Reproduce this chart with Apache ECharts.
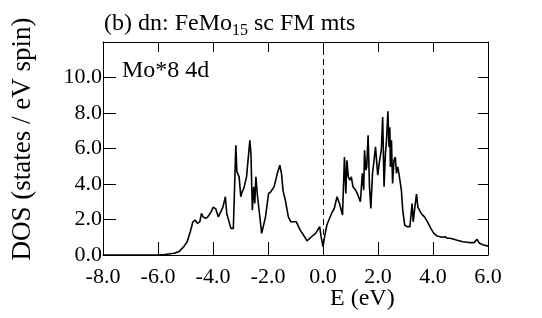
<!DOCTYPE html>
<html>
<head>
<meta charset="utf-8">
<script src="https://cdn.jsdelivr.net/npm/echarts@6/dist/echarts.min.js"></script>
<style>
    html, body {margin: 0; padding: 0; background: #fff;}
    #chart {width: 542px; height: 318px;}
</style>
</head>
<body>
<div id="chart"></div>
<script>
// energy (eV) and DOS
const energy = [
    -8.0, -6.0, -5.76, -5.41, -5.23, -5.06, -4.94, -4.83, -4.73, -4.65, -4.57, -4.48, -4.42, -4.36,
    -4.27, -4.19, -4.07, -3.99, -3.90, -3.81, -3.72, -3.64, -3.55, -3.50, -3.43, -3.35, -3.26, -3.20,
    -3.17, -3.13, -3.09, -3.05, -2.99, -2.94, -2.88, -2.83, -2.78, -2.73, -2.66, -2.62, -2.57, -2.52,
    -2.48, -2.44, -2.38, -2.23, -2.09, -1.98, -1.90, -1.78, -1.66, -1.57, -1.51, -1.45, -1.37, -1.26,
    -1.17, -1.08, -0.97, -0.83, -0.67, -0.58, -0.44, -0.27, -0.12, -0.07, 0.0, 0.06, 0.14, 0.20,
    0.31, 0.41, 0.51, 0.60, 0.71, 0.78, 0.83, 0.87, 0.92, 0.98, 1.03, 1.09, 1.19, 1.27,
    1.36, 1.43, 1.48, 1.51, 1.56, 1.59, 1.64, 1.69, 1.74, 1.80, 1.85, 1.91, 1.99, 2.06,
    2.12, 2.17, 2.22, 2.27, 2.31, 2.36, 2.40, 2.43, 2.45, 2.49, 2.53, 2.58, 2.63, 2.67,
    2.72, 2.77, 2.85, 2.90, 2.97, 3.05, 3.16, 3.22, 3.24, 3.28, 3.34, 3.40, 3.45, 3.57,
    3.69, 3.80, 3.92, 4.03, 4.15, 4.33, 4.44, 4.52, 4.62, 4.73, 4.85, 5.08, 5.31, 5.49,
    5.55, 5.60, 5.69, 5.84, 6.0
];
const dos = [
    0.0, 0.0, 0.03, 0.1, 0.2, 0.47, 0.75, 1.3, 1.87, 1.97, 1.78, 1.87, 2.34, 2.15,
    2.06, 2.15, 2.43, 2.7, 2.6, 2.15, 2.43, 2.7, 3.28, 2.34, 2.25, 1.5, 1.5, 4.6,
    6.18, 4.68, 4.78, 4.4, 3.28, 3.56, 3.75, 3.84, 4.4, 4.5, 6.46, 5.71, 2.53, 3.84,
    2.9, 4.4, 3.28, 1.22, 2.15, 3.46, 3.56, 3.84, 4.6, 5.06, 4.6, 3.6, 3.09, 2.15,
    1.87, 1.87, 1.87, 1.4, 1.03, 0.8, 1.0, 1.22, 1.6, 1.03, 0.47, 1.03, 1.69, 1.78,
    2.34, 2.62, 3.28, 2.9, 2.25, 5.52, 3.46, 5.34, 4.4, 4.21, 4.4, 3.84, 3.65, 3.37,
    3.0, 4.6, 3.65, 5.9, 4.78, 4.96, 6.74, 3.84, 2.62, 4.6, 5.24, 6.09, 4.5, 5.34,
    5.9, 7.77, 3.84, 5.71, 6.46, 8.1, 6.09, 7.2, 4.96, 6.46, 4.03, 5.34, 5.52, 4.6,
    4.96, 4.5, 3.65, 2.53, 1.69, 1.6, 1.6, 1.69, 2.9, 1.87, 2.7, 3.43, 2.7, 2.34,
    2.15, 1.87, 1.5, 1.22, 1.07, 1.0, 1.03, 0.94, 0.94, 0.9, 0.84, 0.75, 0.7, 0.7,
    0.75, 0.88, 0.66, 0.56, 0.5
];
const xTicks = {min: -8, max: 6, step: 2};
const yTicks = {min: 0, max: 12, step: 2};

const FONT = '"Liberation Serif", "DejaVu Serif", serif';
const chart = echarts.init(document.getElementById('chart'));

// 坐标轴公共样式，四边都画框和朝内的刻度
function axis(extra, tickLen) {
    return Object.assign({
        type: 'value',
        axisLine: {show: true, onZero: false, lineStyle: {color: '#000', width: 1}},
        axisTick: {show: true, inside: true, length: tickLen, lineStyle: {color: '#000', width: 1}},
        splitLine: {show: false}
    }, extra);
}

chart.setOption({
    animation: false,
    backgroundColor: '#fff',
    title: {
        text: '(b) dn: FeMo{sub|15} sc FM mts',
        left: 99, top: 4,
        textStyle: {
            fontFamily: FONT, fontSize: 24, fontWeight: 'normal', color: '#000',
            rich: {sub: {fontFamily: FONT, fontSize: 16, color: '#000', padding: [14, 0, 0, 0]}}
        }
    },
    grid: {left: 103, right: 54, top: 42, bottom: 63},
    xAxis: [
        axis({
            min: xTicks.min, max: xTicks.max, interval: xTicks.step,
            axisLabel: {
                color: '#000', fontFamily: FONT, fontSize: 22, margin: 11,
                formatter: v => v.toFixed(1)
            }
        }, 13),
        axis({
            position: 'top', min: xTicks.min, max: xTicks.max, interval: xTicks.step,
            axisLabel: {show: false}
        }, 10)
    ],
    yAxis: [
        axis({
            position: 'left', min: yTicks.min, max: yTicks.max, interval: yTicks.step,
            axisLabel: {
                color: '#000', fontFamily: FONT, fontSize: 22, margin: 1, showMaxLabel: false,
                formatter: v => v.toFixed(1)
            }
        }, 13),
        axis({
            position: 'right', min: yTicks.min, max: yTicks.max, interval: yTicks.step,
            axisLabel: {show: false}
        }, 10)
    ],
    graphic: [
        {
            type: 'text', left: 330, top: 287,
            style: {text: 'E (eV)', font: '24px ' + FONT, fill: '#000'}
        },
        {
            type: 'text', left: 122, top: 59,
            style: {text: 'Mo*8 4d', font: '24px ' + FONT, fill: '#000'}
        },
        {
            type: 'text', x: 23, y: 139, rotation: Math.PI / 2,
            style: {text: 'DOS (states / eV spin)', font: '27px ' + FONT, fill: '#000',
                align: 'center', verticalAlign: 'middle'}
        }
    ],
    series: [{
        type: 'line',
        data: energy.map((e, i) => [e, dos[i]]),
        showSymbol: false,
        lineStyle: {color: '#000', width: 1.6},
        markLine: {
            silent: true, symbol: 'none', label: {show: false},
            lineStyle: {color: '#000', type: [6, 4], width: 1},
            data: [{xAxis: 0}]
        }
    }]
});
</script>
</body>
</html>
